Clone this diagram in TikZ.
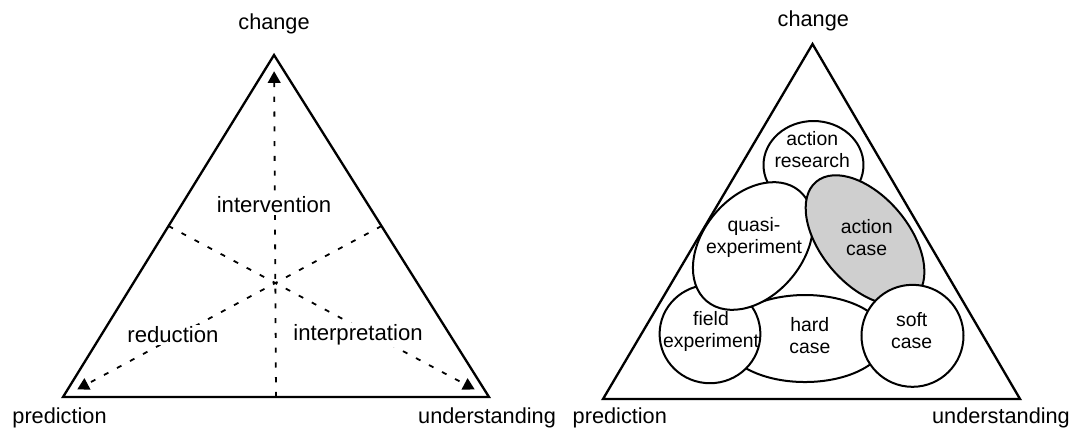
\documentclass[tikz,border=0pt]{standalone}
\usepackage{fontspec}
\setmainfont{Liberation Sans}
\usetikzlibrary{arrows.meta,calc}

\begin{document}
\begin{tikzpicture}[
        corner/.style={font=\fontsize{10.3}{12.4}\selectfont},
        region/.style={fill=white, inner sep=1pt, font=\fontsize{10.5}{12.6}\selectfont},
        method/.style={align=center, inner sep=0pt, font=\fontsize{9.2}{10.7}\selectfont},
        blob/.style={draw, line width=0.95pt, fill=white},
        median/.style={line width=0.85pt, dash pattern=on 2.4pt off 4.6pt,
            -{Triangle[width=6pt,length=5.5pt]}, shorten >=0.27cm}
    ]
        \useasboundingbox (0,0) rectangle (17.933,7.167);

        % Left triangle
        \coordinate (lc) at (4.567,6.25);
        \coordinate (lp) at (1.05,0.55);
        \coordinate (lu) at (8.15,0.55);
        \draw[line width=1.1pt] (lc) -- (lp) -- (lu) -- cycle;

        % Medians towards the corners
        \coordinate (lmb) at ($(lp)!0.5!(lu)$);
        \coordinate (lml) at ($(lc)!0.5!(lp)$);
        \coordinate (lmr) at ($(lc)!0.5!(lu)$);
        \draw[median] (lmb) -- (lc);
        \draw[median] (lml) -- (lu);
        \draw[median] (lmr) -- (lp);

        % Left labels
        \node[corner] (lchange) at (4.567,6.77) {change};
        \node[corner] (lpred) at (0.992,0.21) {prediction};
        \node[corner] (lund) at (8.117,0.21) {understanding};
        \node[region] (interv) at (4.567,3.757) {intervention};
        \node[region] (reduc) at (2.883,1.583) {reduction};
        \node[region] (interp) at (5.967,1.583) {interpretation};

        % Right triangle
        \coordinate (rc) at (13.542,6.433);
        \coordinate (rp) at (10.05,0.517);
        \coordinate (ru) at (17.0,0.517);
        \draw[line width=1.1pt] (rc) -- (rp) -- (ru) -- cycle;

        % Method regions (later ones lie on top)
        \draw[blob] (13.558,4.417) ellipse [x radius=0.833, y radius=0.733];
        \draw[blob] (13.417,1.525) ellipse [x radius=1.35, y radius=0.725];
        \draw[blob] (11.833,1.6) ellipse [x radius=0.84, y radius=0.82];
        \draw[blob, rotate around={50:(12.55,3.067)}] (12.55,3.067) ellipse [x radius=1.2, y radius=0.833];
        \draw[blob, fill=black!19, rotate around={-50:(14.417,3.167)}] (14.417,3.167) ellipse [x radius=1.267, y radius=0.733];
        \draw[blob] (15.208,1.57) circle [radius=0.85];

        % Right labels
        \node[corner] (rchange) at (13.555,6.817) {change};
        \node[corner] (rpred) at (10.33,0.21) {prediction};
        \node[corner] (rund) at (16.683,0.21) {understanding};
        \node[method] (ar) at (13.537,4.672) {action\\research};
        \node[method] (qe) at (12.567,3.208) {quasi-\\experiment};
        \node[method] (ac) at (14.444,3.208) {action\\case};
        \node[method] (fe) at (11.85,1.645) {field\\experiment};
        \node[method] (hc) at (13.497,1.573) {hard\\case};
        \node[method] (sc) at (15.195,1.658) {soft\\case};
    \end{tikzpicture}
\end{document}
